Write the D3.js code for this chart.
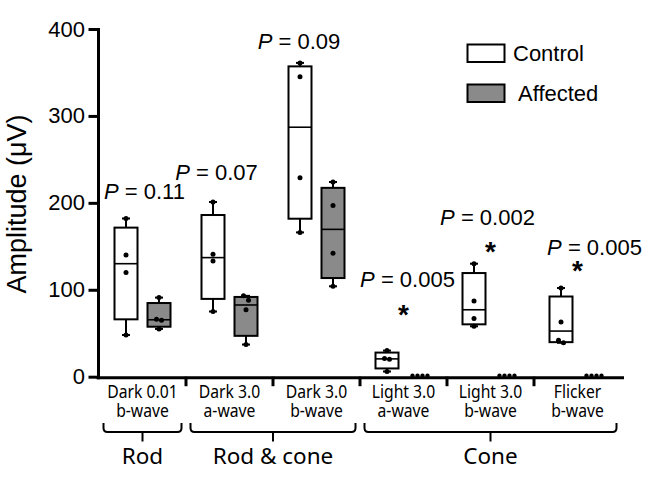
<!DOCTYPE html>
<html><head><meta charset="utf-8">
<script src="https://cdn.jsdelivr.net/npm/d3@7"></script>
<style>body{margin:0;background:#fff} svg{display:block}</style>
</head><body><svg id="c" width="661" height="484"></svg>
<script>
// ---------------- DATA ----------------
const categoryIds = ["d001b", "d3a", "d3b", "l3a", "l3b", "flb"];
const labelLine1 = ["Dark 0.01", "Dark 3.0", "Dark 3.0", "Light 3.0", "Light 3.0", "Flicker"];
const labelLine2 = ["b-wave", "a-wave", "b-wave", "a-wave", "b-wave", "b-wave"];
const groups = ["Control", "Affected"];
const controlValues = [
  [182, 140, 120, 48],
  [201, 141, 133, 75],
  [361, 345, 229, 166],
  [30, 21, 20, 6],
  [130, 87, 67, 58],
  [102, 63, 42, 39]
];
const affectedValues = [
  [91, 66, 65, 55],
  [93, 88, 77, 37],
  [224, 197, 142, 104],
  [0, 0, 0, 0],
  [0, 0, 0, 0],
  [0, 0, 0, 0]
];
const pValues = ["0.11", "0.07", "0.09", "0.005", "0.002", "0.005"];
const significant = [false, false, false, true, true, true];
const classNames = ["Rod", "Rod & cone", "Cone"];
const classSpans = [[0, 0], [1, 2], [3, 5]];
const yTicks = [0, 100, 200, 300, 400];

// ---------------- LAYOUT ----------------
const svg = d3.select("#c");
const y = d3.scaleLinear().domain([0, 400]).range([376.7, 29]);
const x = d3.scaleBand().domain(categoryIds).range([99, 621]);
const xg = d3.scalePoint().domain(groups).range([-16.5, 16.5]);
const fills = {Control: "#ffffff", Affected: "#8a8a8a"};
const boxW = 23, capW = 8, dotR = 2.5, dotGap = 5;
const helv = "'Liberation Sans', Arial, sans-serif";
const myriad = "'Noto Sans', 'Open Sans', sans-serif";

// annotation placement (pixel dx from category centre, y in data units)
const pLabelPos = [{dx: 2, v: 204.4}, {dx: -13, v: 226.3}, {dx: -17.5, v: 377}, {dx: 4, v: 103.2}, {dx: -3, v: 174.5}, {dx: 17, v: 140}];
const starAt = [null, null, null, 77.5, 150.4, 128.5];

function quart(sorted, p) {
  const n = sorted.length, pos = p * (n + 1);
  if (pos <= 1) return sorted[0];
  if (pos >= n) return sorted[n - 1];
  const i = Math.floor(pos);
  return sorted[i - 1] + (pos - i) * (sorted[i] - sorted[i - 1]);
}

// ---------------- BOXES ----------------
const boxes = [];
categoryIds.forEach((c, i) => {
  [[groups[0], controlValues[i]], [groups[1], affectedValues[i]]].forEach(([g, vals]) => {
    const s = vals.slice().sort(d3.ascending);
    boxes.push({cat: c, group: g, vals: s, min: s[0], max: s[s.length - 1],
      q1: quart(s, 0.25), med: quart(s, 0.5), q3: quart(s, 0.75),
      cx: x(c) + x.bandwidth() / 2 + xg(g)});
  });
});

const gb = svg.append("g");
boxes.forEach(b => {
  const g = gb.append("g");
  if (b.max > b.min) {
    g.append("line").attr("x1", b.cx).attr("x2", b.cx).attr("y1", y(b.max)).attr("y2", y(b.q3))
      .attr("stroke", "#000").attr("stroke-width", 2);
    g.append("line").attr("x1", b.cx).attr("x2", b.cx).attr("y1", y(b.q1)).attr("y2", y(b.min))
      .attr("stroke", "#000").attr("stroke-width", 2);
    [b.max, b.min].forEach(v => g.append("line").attr("x1", b.cx - capW / 2).attr("x2", b.cx + capW / 2)
      .attr("y1", y(v)).attr("y2", y(v)).attr("stroke", "#000").attr("stroke-width", 2));
    g.append("rect").attr("x", b.cx - boxW / 2).attr("width", boxW)
      .attr("y", y(b.q3)).attr("height", y(b.q1) - y(b.q3))
      .attr("fill", fills[b.group]).attr("stroke", "#000").attr("stroke-width", 2);
    g.append("line").attr("x1", b.cx - boxW / 2).attr("x2", b.cx + boxW / 2)
      .attr("y1", y(b.med)).attr("y2", y(b.med)).attr("stroke", "#000").attr("stroke-width", 1.6);
  }
});

// ---------------- AXES ----------------
const y0 = y(0);
svg.append("line").attr("x1", x.range()[0] - 2.5).attr("x2", x.range()[1] + 3)
  .attr("y1", y0 + 1).attr("y2", y0 + 1).attr("stroke", "#000").attr("stroke-width", 3);
const yAxis = svg.append("g").attr("transform", "translate(98.5,0)")
  .call(d3.axisLeft(y).tickValues(yTicks).tickSize(10).tickSizeOuter(0).tickPadding(3.5));
yAxis.select(".domain").attr("stroke-width", 3).attr("d", `M0,${y(400) - 1}V${y0 + 2.5}`);
yAxis.selectAll(".tick line").attr("stroke-width", 3);
yAxis.selectAll(".tick text").attr("font-family", helv).attr("font-size", 22).attr("fill", "#000");

// separators between categories
categoryIds.slice(1).forEach(c => {
  svg.append("line").attr("x1", x(c)).attr("x2", x(c)).attr("y1", y0).attr("y2", y0 + 9.5)
    .attr("stroke", "#000").attr("stroke-width", 3);
});

// ---------------- DOTS ----------------
const gd = svg.append("g");
boxes.forEach(b => {
  // cluster overlapping points and spread them horizontally
  const pts = b.vals.map(v => ({v, py: y(v)})).sort((a, c) => a.py - c.py);
  const clusters = [];
  pts.forEach(p => {
    const last = clusters[clusters.length - 1];
    if (last && p.py - last[last.length - 1].py < dotR * 2 + 0.5) last.push(p); else clusters.push([p]);
  });
  clusters.forEach(cl => cl.forEach((p, k) => {
    const off = (k - (cl.length - 1) / 2) * dotGap;
    gd.append("circle").attr("cx", b.cx + off).attr("cy", p.py - (p.v === 0 ? 1 : 0))
      .attr("r", p.v === 0 ? 2.2 : dotR).attr("fill", "#000");
  }));
});

// ---------------- CATEGORY LABELS ----------------
const gl = svg.append("g").attr("font-family", myriad).attr("font-size", 18.5).attr("fill", "#000").attr("text-anchor", "middle");
categoryIds.forEach((c, i) => {
  const cx = x(c) + x.bandwidth() / 2;
  const t = gl.append("text").attr("transform", `translate(${cx},397.7) scale(0.85,1)`);
  t.append("tspan").attr("x", 0).attr("y", 0).text(labelLine1[i]);
  t.append("tspan").attr("x", 0).attr("y", 19).text(labelLine2[i]);
});

// ---------------- BRACKETS ----------------
const gk = svg.append("g");
classSpans.forEach((sp, i) => {
  const x0 = x(categoryIds[sp[0]]) + 4.5, x1 = x(categoryIds[sp[1]]) + x.bandwidth() - 4.5;
  const cx = (x0 + x1) / 2, top = 423, h = 432;
  gk.append("path").attr("d", `M${x0},${top}V${h - 4}Q${x0},${h} ${x0 + 4},${h}H${x1 - 4}Q${x1},${h} ${x1},${h - 4}V${top}M${cx},${h}V${h + 9.5}`)
    .attr("fill", "none").attr("stroke", "#000").attr("stroke-width", 2);
  gk.append("text").attr("x", cx).attr("y", 464.3).attr("text-anchor", "middle")
    .attr("font-family", myriad).attr("font-size", 22.5).attr("fill", "#000").text(classNames[i]);
});

// ---------------- Y LABEL ----------------
svg.append("text").attr("transform", "translate(26,204) rotate(-90)").attr("text-anchor", "middle")
  .attr("font-family", helv).attr("font-size", 27).attr("fill", "#000").text("Amplitude (μV)");

// ---------------- P VALUES & STARS ----------------
categoryIds.forEach((c, i) => {
  const cx = x(c) + x.bandwidth() / 2;
  const t = svg.append("text").attr("x", cx + pLabelPos[i].dx).attr("y", y(pLabelPos[i].v))
    .attr("text-anchor", "middle").attr("font-family", helv).attr("font-size", 22).attr("fill", "#000");
  t.append("tspan").attr("font-style", "italic").text("P");
  t.append("tspan").text(" = " + pValues[i]);
  if (significant[i]) {
    svg.append("text").attr("x", cx).attr("y", y(starAt[i]) + 15).attr("text-anchor", "middle")
      .attr("font-family", helv).attr("font-weight", "bold").attr("font-size", 28).attr("fill", "#000").text("*");
  }
});

// ---------------- LEGEND ----------------
const legend = svg.append("g");
groups.forEach((g, i) => {
  legend.append("rect").attr("x", 467.5).attr("y", 44.5 + i * 40).attr("width", 37).attr("height", 17.5)
    .attr("fill", fills[g]).attr("stroke", "#000").attr("stroke-width", 2);
  legend.append("text").attr("x", 513 + i * 5).attr("y", 60.5 + i * 40.5)
    .attr("font-family", helv).attr("font-size", 22).attr("fill", "#000").text(g);
});
</script></body></html>
